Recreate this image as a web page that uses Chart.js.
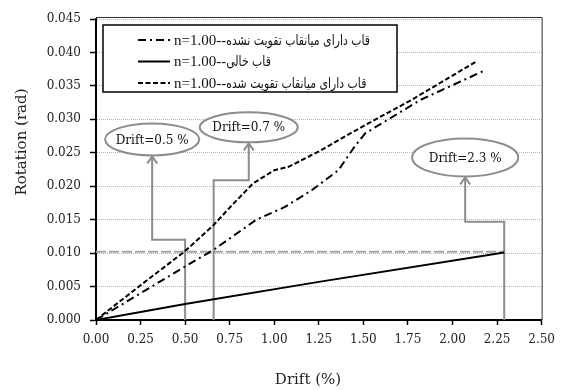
<!DOCTYPE html>
<html>
<head>
<meta charset="utf-8">
<script src="https://cdn.jsdelivr.net/npm/chart.js@4"></script>
<style>
  html,body{margin:0;padding:0;background:#fff;}
  #wrap{width:563px;height:390px;}
</style>
</head>
<body>
<div id="wrap"><canvas id="chart" width="563" height="390"></canvas></div>
<script>
// Datos (drift %, rotation rad)
const unreinforcedDrift = [0, 0.25, 0.50, 0.66, 0.90, 1.06, 1.21, 1.36, 1.45, 1.51, 1.82, 2.18];
const unreinforcedRot   = [0, 0.0040, 0.0080, 0.0105, 0.0150, 0.0169, 0.0194, 0.0224, 0.0259, 0.0279, 0.0329, 0.0373];
const bareDrift = [0, 0.50, 1.25, 2.29];
const bareRot   = [0, 0.0024, 0.0057, 0.0101];
const reinforcedDrift = [0, 0.25, 0.50, 0.66, 0.75, 0.88, 1.00, 1.08, 1.25, 1.50, 1.77, 2.13];
const reinforcedRot   = [0, 0.0052, 0.0103, 0.0142, 0.0168, 0.0204, 0.0224, 0.0229, 0.0252, 0.0290, 0.0329, 0.0386];

const seriesLabels = [
  "n=1.00--قاب دارای میانقاب تقویت نشده",
  "n=1.00--قاب خالی",
  "n=1.00--قاب دارای میانقاب تقویت شده"
];

const markerDrift = [0.50, 0.66, 2.29];
const markerText  = ["Drift=0.5 %", "Drift=0.7 %", "Drift=2.3 %"];
const markerRot   = 0.0102;

const xTitle = "Drift (%)";
const yTitle = "Rotation (rad)";

const SERIF = "'DejaVu Serif', 'Liberation Serif', serif";
const GRAY = "#8c8c8c";

function pts(xs, ys){ return xs.map((x,i)=>({x:x, y:ys[i]})); }

// Globos y flechas
const calloutPlugin = {
  id: "callouts",
  beforeDatasetsDraw(chart, args, opts){
    const ctx = chart.ctx, xs = chart.scales.x, ys = chart.scales.y;
    ctx.save();
    // linea horizontal gris
    ctx.strokeStyle = "#a6a6a6"; ctx.lineWidth = 2; ctx.setLineDash([10,3]);
    ctx.beginPath();
    ctx.moveTo(xs.getPixelForValue(0), ys.getPixelForValue(markerRot));
    ctx.lineTo(xs.getPixelForValue(markerDrift[2]), ys.getPixelForValue(markerRot));
    ctx.stroke();
    ctx.setLineDash([]);
    opts.boxes.forEach((b,i)=>{
      const px = xs.getPixelForValue(markerDrift[i]);
      const cx = xs.getPixelForValue(b.cx), cy = ys.getPixelForValue(b.cy);
      const sy = ys.getPixelForValue(b.step);
      const tipY = cy + b.ry;
      ctx.strokeStyle = GRAY; ctx.lineWidth = 2;
      ctx.beginPath();
      ctx.moveTo(px, ys.getPixelForValue(0));
      ctx.lineTo(px, sy);
      ctx.lineTo(cx, sy);
      ctx.lineTo(cx, tipY);
      ctx.stroke();
      ctx.beginPath();
      ctx.moveTo(cx-5, tipY+8); ctx.lineTo(cx, tipY+1); ctx.lineTo(cx+5, tipY+8);
      ctx.stroke();
      ctx.beginPath();
      ctx.ellipse(cx, cy, b.rx, b.ry, 0, 0, Math.PI*2);
      ctx.fillStyle = "#fff"; ctx.fill();
      ctx.stroke();
      ctx.fillStyle = "#111"; ctx.font = "12px " + SERIF;
      ctx.textAlign = "center"; ctx.textBaseline = "middle";
      ctx.fillText(markerText[i], cx, cy+1);
    });
    ctx.restore();
  }
};

// Marco, titulos y leyenda
const framePlugin = {
  id: "frame",
  afterDraw(chart){
    const ctx = chart.ctx, a = chart.chartArea;
    ctx.save();
    ctx.strokeStyle = "#333"; ctx.lineWidth = 1;
    ctx.beginPath();
    ctx.moveTo(a.left, a.top-1.5); ctx.lineTo(a.right+0.5, a.top-1.5); ctx.lineTo(a.right+0.5, a.bottom);
    ctx.stroke();

    ctx.fillStyle = "#222"; ctx.font = "15px " + SERIF;
    ctx.textAlign = "center"; ctx.textBaseline = "middle";
    ctx.fillText(xTitle, 308, 380);
    ctx.translate(22, 142); ctx.rotate(-Math.PI/2);
    ctx.fillText(yTitle, 0, 0);
    ctx.restore();

    // leyenda
    ctx.save();
    ctx.fillStyle = "#fff"; ctx.strokeStyle = "#000"; ctx.lineWidth = 1.5;
    ctx.fillRect(103, 25, 294, 67); ctx.strokeRect(103, 25, 294, 67);
    const parts = chart.data.datasets.map(ds => {
      const k = ds.label.indexOf("--") + 2;
      return [ds.label.slice(0, k), ds.label.slice(k)];
    });
    ctx.font = "15px 'Liberation Serif', serif";
    const preW = ctx.measureText(parts[0][0]).width;
    ctx.font = "14px 'DejaVu Sans', sans-serif";
    const sx = Math.min(1, (370 - 174 - preW) / ctx.measureText(parts[0][1]).width);
    chart.data.datasets.forEach((ds,i)=>{
      const y = 40 + i*21.5;
      ctx.strokeStyle = "#000"; ctx.lineWidth = 2; ctx.setLineDash(ds.borderDash || []);
      ctx.beginPath(); ctx.moveTo(138, y); ctx.lineTo(170, y); ctx.stroke();
      ctx.setLineDash([]);
      ctx.fillStyle = "#111";
      ctx.textAlign = "left"; ctx.textBaseline = "middle";
      ctx.font = "15px 'Liberation Serif', serif";
      ctx.fillText(parts[i][0], 174, y+1);
      ctx.save();
      ctx.translate(174 + preW, y+1); ctx.scale(sx, 1);
      ctx.font = "14px 'DejaVu Sans', sans-serif";
      ctx.fillText(parts[i][1], 0, 0);
      ctx.restore();
    });
    ctx.restore();
  }
};

new Chart(document.getElementById("chart"), {
  type: "line",
  data: {
    datasets: [
      {label: seriesLabels[0], data: pts(unreinforcedDrift, unreinforcedRot), borderColor: "#000", borderWidth: 2, borderDash: [8,4,2,4], pointRadius: 0, tension: 0},
      {label: seriesLabels[1], data: pts(bareDrift, bareRot), borderColor: "#000", borderWidth: 2, pointRadius: 0, tension: 0},
      {label: seriesLabels[2], data: pts(reinforcedDrift, reinforcedRot), borderColor: "#000", borderWidth: 2, borderDash: [5,2.5], pointRadius: 0, tension: 0}
    ]
  },
  options: {
    responsive: false,
    animation: false,
    layout: {padding: {top: 19, right: 18, bottom: 0, left: 0}},
    plugins: {
      legend: {display: false},
      tooltip: {enabled: false},
      callouts: {
        boxes: [
          {cx: 0.315, cy: 0.0270, rx: 47, ry: 16, step: 0.0120},
          {cx: 0.857, cy: 0.0288, rx: 49, ry: 15, step: 0.0209},
          {cx: 2.071, cy: 0.0243, rx: 53, ry: 19, step: 0.0147}
        ]
      }
    },
    scales: {
      x: {
        type: "linear", min: 0, max: 2.5,
        afterFit(s){ s.height = 70; },
        ticks: {stepSize: 0.25, padding: 8, color: "#222", font: {family: SERIF, size: 12},
                callback: v => v.toFixed(2), maxRotation: 0},
        grid: {drawOnChartArea: false, tickLength: 5, tickColor: "#000", tickWidth: 1.5},
        border: {color: "#000", width: 2}
      },
      y: {
        min: 0, max: 0.045,
        afterFit(s){ s.width = 96; },
        ticks: {stepSize: 0.005, padding: 9, color: "#222", font: {family: SERIF, size: 12},
                callback: v => v.toFixed(3)},
        grid: {color: "#b5b5b5", lineWidth: 1, tickLength: 6, tickColor: "#000", tickWidth: 1.5, tickBorderDash: []},
        border: {color: "#000", width: 2, dash: [1,1]}
      }
    }
  },
  plugins: [calloutPlugin, framePlugin]
});
</script>
</body>
</html>
